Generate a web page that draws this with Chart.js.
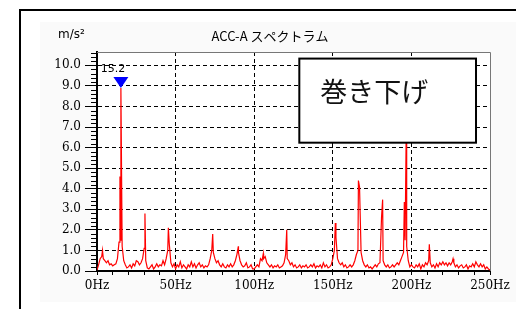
<!DOCTYPE html>
<html>
<head>
<meta charset="utf-8">
<script src="https://cdn.jsdelivr.net/npm/chart.js@4/dist/chart.umd.min.js"></script>
<style>
  html, body { margin: 0; padding: 0; background: #fff; overflow: hidden; }
</style>
</head>
<body>
<canvas id="spectrum" width="516" height="309"></canvas>
<script>
// amplitude floor, one value per Hz (index = Hz)
const noiseAmp = [
  0.05, 0.3, 0.6, 0.7, 0.6, 0.5, 0.4, 0.5, 0.3, 0.35,
  0.25, 0.3, 0.35, 0.6, 1.4, 1.5, 1.2, 0.5, 0.3, 0.15,
  0.2, 0.3, 0.15, 0.35, 0.25, 0.5, 0.45, 0.3, 0.4, 0.6,
  1.1, 0.5, 0.15, 0.1, 0.2, 0.3, 0.1, 0.2, 0.35, 0.2,
  0.3, 0.25, 0.5, 0.3, 0.6, 1.0, 1.3, 0.4, 0.2, 0.35,
  0.1, 0.3, 0.2, 0.45, 0.15, 0.3, 0.2, 0.1, 0.3, 0.2,
  0.45, 0.2, 0.35, 0.15, 0.3, 0.4, 0.2, 0.3, 0.15, 0.25,
  0.2, 0.3, 0.6, 1.0, 0.9, 0.6, 0.4, 0.5, 0.3, 0.2,
  0.35, 0.2, 0.15, 0.3, 0.2, 0.35, 0.2, 0.3, 0.5, 0.8,
  0.9, 0.5, 0.3, 0.2, 0.25, 0.4, 0.15, 0.2, 0.3, 0.1,
  0.1, 0.2, 0.3, 0.2, 0.6, 0.5, 0.6, 0.7, 0.4, 0.3,
  0.2, 0.3, 0.15, 0.25, 0.2, 0.3, 0.15, 0.2, 0.25, 0.4,
  0.8, 0.6, 0.5, 0.3, 0.4, 0.2, 0.3, 0.15, 0.2, 0.3,
  0.15, 0.25, 0.2, 0.3, 0.15, 0.2, 0.3, 0.2, 0.35, 0.15,
  0.25, 0.2, 0.3, 0.15, 0.4, 0.2, 0.3, 0.15, 0.2, 0.3,
  0.6, 1.0, 1.65, 0.6, 0.4, 0.3, 0.4, 0.2, 0.3, 0.15,
  0.2, 0.3, 0.2, 0.3, 0.5, 0.8, 1.0, 4.1, 0.9, 0.5,
  0.3, 0.2, 0.3, 0.15, 0.2, 0.1, 0.2, 0.3, 0.2, 0.35,
  0.4, 2.6, 0.5, 0.3, 0.2, 0.3, 0.15, 0.2, 0.3, 0.2,
  0.3, 0.4, 0.3, 0.5, 0.7, 0.9, 1.5, 1.2, 0.5, 0.2,
  0.3, 0.2, 0.15, 0.3, 0.2, 0.35, 0.1, 0.3, 0.2, 0.4,
  0.3, 0.5, 0.4, 0.2, 0.3, 0.15, 0.35, 0.2, 0.4, 0.3,
  0.45, 0.3, 0.4, 0.25, 0.4, 0.3, 0.45, 0.4, 0.2, 0.3,
  0.15, 0.25, 0.3, 0.15, 0.2, 0.3, 0.1, 0.25, 0.2, 0.35,
  0.2, 0.45, 0.3, 0.2, 0.35, 0.2, 0.3, 0.1, 0.2, 0.1,
  0.05
];

// spectral peaks between the 1 Hz bins
const peakFreq = [3.5, 14.6, 15.2, 30.5, 45.4, 73.6, 89.9, 105.8, 120.7, 151.6, 166.3, 181.7, 195.5, 196.8, 211.4, 226.5];
const peakAmp  = [1.0, 4.6, 8.9, 2.8, 2.1, 1.8, 1.2, 0.85, 2.0, 2.33, 4.4, 3.47, 3.35, 7.6, 1.3, 0.6];

const yTicks = [0, 1, 2, 3, 4, 5, 6, 7, 8, 9, 10];
const xTicks = [0, 10, 20, 30, 40, 50, 60, 70, 80, 90, 100, 110, 120, 130, 140, 150, 160, 170, 180, 190, 200, 210, 220, 230, 240, 250];

const markerFreq = 15.2;
const markerAmp = 8.9;
const markerLabel = '15.2';

const titleText = 'ACC-A スペクトラム';
const unitText = 'm/s²';
const noteText = '巻き下げ';

const points = noiseAmp.map((a, i) => ({ x: i, y: a }))
  .concat(peakFreq.map((f, i) => ({ x: f, y: peakAmp[i] })))
  .sort((a, b) => a.x - b.x);

const clear = 'rgba(0,0,0,0)';

const framePlugin = {
  id: 'frame',
  beforeDraw(chart) {
    const { ctx, chartArea: area } = chart;
    ctx.save();
    ctx.fillStyle = '#fff';
    ctx.fillRect(0, 0, chart.width, chart.height);
    ctx.fillStyle = '#fafafa';
    ctx.fillRect(40, 22, chart.width - 40, 280);
    ctx.fillStyle = '#fff';
    ctx.fillRect(area.left, area.top, area.right - area.left, area.bottom - area.top);
    ctx.strokeStyle = '#000';
    ctx.lineWidth = 2;
    ctx.beginPath();
    ctx.moveTo(20, chart.height);
    ctx.lineTo(20, 10);
    ctx.lineTo(chart.width, 10);
    ctx.stroke();

    ctx.fillStyle = '#000';
    ctx.textBaseline = 'middle';
    ctx.font = '12px "DejaVu Sans"';
    ctx.textAlign = 'left';
    ctx.fillText(unitText, 58, 35);
    ctx.font = '13px "Noto Sans CJK JP"';
    ctx.textAlign = 'center';
    ctx.fillText(titleText, 270, 36);
    ctx.restore();
  },
  afterDraw(chart) {
    const { ctx, chartArea: area } = chart;
    const xs = chart.scales.x;
    const ys = chart.scales.y;
    ctx.save();

    // top / right plot border
    ctx.strokeStyle = '#777';
    ctx.lineWidth = 1;
    ctx.beginPath();
    ctx.moveTo(area.left, area.top + 0.5);
    ctx.lineTo(area.right + 0.5, area.top + 0.5);
    ctx.lineTo(area.right + 0.5, area.bottom);
    ctx.stroke();

    // minor ticks on the y axis
    ctx.strokeStyle = '#000';
    ctx.beginPath();
    for (let v = 0.2; v < ys.max; v += 0.2) {
      if (Math.abs(v - Math.round(v)) < 0.01) continue;
      const y = Math.round(ys.getPixelForValue(v)) + 0.5;
      ctx.moveTo(area.left - 6, y);
      ctx.lineTo(area.left, y);
    }
    ctx.stroke();

    // peak marker
    const mx = xs.getPixelForValue(markerFreq);
    const my = ys.getPixelForValue(markerAmp);
    ctx.fillStyle = '#0000ff';
    ctx.beginPath();
    ctx.moveTo(mx, my);
    ctx.lineTo(mx - 7.5, my - 11);
    ctx.lineTo(mx + 7.5, my - 11);
    ctx.closePath();
    ctx.fill();
    ctx.fillStyle = '#000';
    ctx.font = '11px "DejaVu Sans"';
    ctx.textAlign = 'center';
    ctx.textBaseline = 'middle';
    ctx.fillText(markerLabel, mx - 8, my - 19);

    // note box
    const bx1 = xs.getPixelForValue(128.7), bx2 = xs.getPixelForValue(241.1);
    const by1 = ys.getPixelForValue(10.33), by2 = ys.getPixelForValue(6.24);
    ctx.fillStyle = '#fff';
    ctx.fillRect(bx1, by1, bx2 - bx1, by2 - by1);
    ctx.strokeStyle = '#000';
    ctx.lineWidth = 2;
    ctx.strokeRect(bx1, by1, bx2 - bx1, by2 - by1);
    ctx.fillStyle = '#111';
    ctx.font = '27px "Noto Sans CJK JP"';
    ctx.textAlign = 'left';
    ctx.fillText(noteText, bx1 + 21, by1 + 33);
    ctx.restore();
  }
};

new Chart(document.getElementById('spectrum'), {
  type: 'line',
  data: {
    datasets: [{
      data: points,
      borderColor: '#ff0000',
      borderWidth: 1.2,
      pointRadius: 0,
      tension: 0,
      fill: false
    }]
  },
  options: {
    responsive: false,
    animation: false,
    devicePixelRatio: 1,
    layout: { padding: { top: 52, right: 26, left: 0, bottom: 0 } },
    plugins: { legend: { display: false }, tooltip: { enabled: false } },
    scales: {
      x: {
        type: 'linear',
        min: 0,
        max: 250,
        afterBuildTicks: scale => { scale.ticks = xTicks.map(v => ({ value: v })); },
        afterFit: scale => { scale.height = 38; },
        ticks: {
          autoSkip: false,
          maxRotation: 0,
          padding: 4,
          color: '#000',
          font: { family: 'DejaVu Serif', size: 12 },
          callback: v => (v % 50 === 0 ? v + 'Hz' : '')
        },
        grid: {
          color: c => (c.tick && c.tick.value % 50 === 0 && c.tick.value > 0 && c.tick.value < 250 ? '#000' : clear),
          tickColor: '#000',
          tickLength: 4,
          lineWidth: 1
        },
        border: { color: '#000', width: 2, dash: [4, 3] }
      },
      y: {
        min: 0,
        max: 10.65,
        afterBuildTicks: scale => { scale.ticks = yTicks.map(v => ({ value: v })); },
        afterFit: scale => { scale.width = 97; },
        ticks: {
          padding: 4,
          color: '#000',
          font: { family: 'DejaVu Serif', size: 12 },
          callback: v => v.toFixed(1)
        },
        grid: {
          color: c => (c.tick && c.tick.value > 0 ? '#000' : clear),
          tickColor: '#000',
          tickLength: 12,
          lineWidth: 1
        },
        border: { color: '#000', width: 2, dash: [4, 3] }
      }
    }
  },
  plugins: [framePlugin]
});
</script>
</body>
</html>
